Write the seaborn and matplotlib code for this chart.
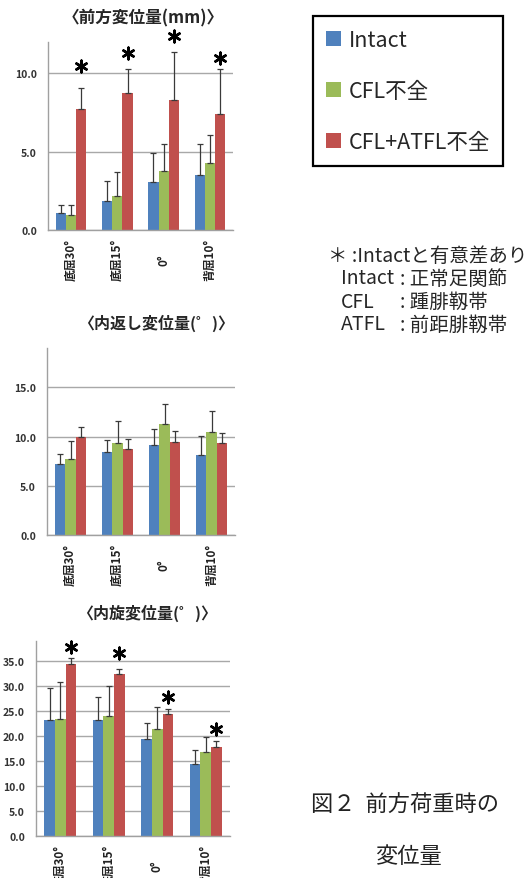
import numpy as np
import pandas as pd
import matplotlib.pyplot as plt
import seaborn as sns

sns.set_style('white')
plt.rcParams['font.family'] = ['Noto Sans CJK JP', 'DejaVu Sans']

# ---- data ----
angles = ['底屈30°', '底屈15°', '0°', '背屈10°']
groups = ['Intact', 'CFL不全', 'CFL+ATFL不全']
colors = ['#4F81BD', '#9BBB59', '#C0504D']

# 前方変位量 (mm)
ant_intact = [1.1, 1.87, 3.09, 3.49]
ant_cfl = [0.96, 2.17, 3.79, 4.3]
ant_atfl = [7.72, 8.72, 8.32, 7.4]
ant_intact_sd = [0.5, 1.28, 1.85, 1.98]
ant_cfl_sd = [0.64, 1.53, 1.7, 1.74]
ant_atfl_sd = [1.32, 1.58, 3.06, 2.9]
ant_star = [10.5, 11.3, 12.4, 10.96]

# 内返し変位量 (deg)
inv_intact = [7.23, 8.45, 9.16, 8.11]
inv_cfl = [7.7, 9.37, 11.23, 10.45]
inv_atfl = [9.98, 8.72, 9.5, 9.37]
inv_intact_sd = [1.02, 1.19, 1.56, 1.97]
inv_cfl_sd = [1.84, 2.17, 2.07, 2.11]
inv_atfl_sd = [1.02, 1.02, 1.05, 1.01]

# 内旋変位量 (deg)
rot_intact = [23.2, 23.2, 19.5, 14.5]
rot_cfl = [23.5, 24.1, 21.5, 16.9]
rot_atfl = [34.5, 32.5, 24.5, 17.9]
rot_intact_sd = [6.5, 4.7, 3.2, 2.7]
rot_cfl_sd = [7.4, 6.0, 4.3, 3.0]
rot_atfl_sd = [1.2, 1.0, 1.0, 1.1]
rot_star = [37.9, 36.7, 27.8, 21.5]


def long_df(intact, cfl, atfl):
    return pd.DataFrame({
        'angle': angles * 3,
        'group': np.repeat(groups, 4),
        'value': intact + cfl + atfl,
    })


W, H = 528, 879
fig = plt.figure(figsize=(W / 100, H / 100), dpi=100)


def px_axes(left, top, right, bottom):
    return fig.add_axes([left / W, 1 - bottom / H, (right - left) / W, (bottom - top) / H])


def draw_panel(ax, intact, cfl, atfl, sds, stars, ymax, yticks, legend=False):
    sns.barplot(data=long_df(intact, cfl, atfl), x='angle', y='value', hue='group',
                hue_order=groups, palette=colors, errorbar=None, width=0.66,
                saturation=1, ax=ax, legend=legend, linewidth=0)
    for cont, sd in zip(ax.containers, sds):
        xs = [b.get_x() + b.get_width() / 2 for b in cont]
        ys = [b.get_height() for b in cont]
        ax.errorbar(xs, ys, yerr=[np.zeros(len(sd)), sd], fmt='none',
                    ecolor='#3a3a3a', elinewidth=0.9, capsize=2.3, capthick=0.9)
    if stars is not None:
        cont = ax.containers[2]
        xs = [b.get_x() + b.get_width() / 2 for b in cont]
        ax.scatter(xs, stars, marker=(6, 2, 0), s=70, c='black',
                   linewidths=1.8, clip_on=False, zorder=5)
    ax.set_xlim(-0.5, 3.5)
    ax.set_ylim(0, ymax)
    ax.set_yticks(yticks)
    ax.set_yticklabels([f'{t:.1f}' for t in yticks])
    ax.set_xlabel('')
    ax.set_ylabel('')
    ax.yaxis.grid(True, color='#a8a8a8', linewidth=1)
    ax.set_axisbelow(True)
    for s in ['top', 'right']:
        ax.spines[s].set_visible(False)
    for s in ['left', 'bottom']:
        ax.spines[s].set_color('#a0a0a0')
        ax.spines[s].set_linewidth(1)
    ax.tick_params(axis='x', length=0, pad=21)
    ax.tick_params(axis='y', length=3, color='#a0a0a0', pad=5, labelsize=7.5,
                   labelcolor='#333333')
    for lab in ax.get_yticklabels():
        lab.set_fontweight('bold')
    for lab in ax.get_xticklabels():
        lab.set_rotation(90)
        lab.set_va('center')
        lab.set_fontsize(8.5)
        lab.set_fontweight('bold')
        lab.set_color('#222222')


ax1 = px_axes(48, 43, 233, 231)
draw_panel(ax1, ant_intact, ant_cfl, ant_atfl,
           [ant_intact_sd, ant_cfl_sd, ant_atfl_sd], ant_star, 12, [0, 5, 10], legend=True)
handles, labels = ax1.get_legend_handles_labels()
ax1.get_legend().remove()

ax2 = px_axes(47, 349, 235, 536)
draw_panel(ax2, inv_intact, inv_cfl, inv_atfl,
           [inv_intact_sd, inv_cfl_sd, inv_atfl_sd], None, 19, [0, 5, 10, 15])

ax3 = px_axes(36, 642, 230, 837)
draw_panel(ax3, rot_intact, rot_cfl, rot_atfl,
           [rot_intact_sd, rot_cfl_sd, rot_atfl_sd], rot_star, 39, list(range(0, 40, 5)))

# panel titles
fig.text(143 / W, 1 - 18 / H, '〈前方変位量(mm)〉', ha='center', va='center',
         fontsize=12, fontweight='bold')
fig.text(156 / W, 1 - 323 / H, '〈内返し変位量(゜)〉', ha='center', va='center',
         fontsize=11.5, fontweight='bold')
fig.text(147 / W, 1 - 613 / H, '〈内旋変位量(゜)〉', ha='center', va='center',
         fontsize=11.5, fontweight='bold')

# legend
leg = fig.legend(handles, labels, loc='upper left', bbox_to_anchor=(313 / W, 1 - 17 / H),
                 borderaxespad=0, fontsize=15.5, frameon=True, fancybox=False,
                 framealpha=1, edgecolor='black', handlelength=0.7, handleheight=0.7,
                 handletextpad=0.35, labelspacing=1.35, borderpad=0.6)
leg.get_frame().set_linewidth(1.6)

# notes
note_fs = 14
fig.text(328 / W, 1 - 256 / H, '＊ :Intactと有意差あり', ha='left', va='center', fontsize=note_fs)
note_names = ['Intact', 'CFL', 'ATFL']
note_desc = [': 正常足関節', ': 踵腓靱帯', ': 前距腓靱帯']
for i, (nm, ds) in enumerate(zip(note_names, note_desc)):
    y = 1 - (279 + 23 * i) / H
    fig.text(341 / W, y, nm, ha='left', va='center', fontsize=note_fs)
    fig.text(400 / W, y, ds, ha='left', va='center', fontsize=note_fs)

# caption
fig.text(405 / W, 1 - 805 / H, '図２  前方荷重時の', ha='center', va='center',
         fontsize=16, color='#222222')
fig.text(408 / W, 1 - 857 / H, '変位量', ha='center', va='center',
         fontsize=16, color='#222222')

fig.savefig('out.png', dpi=100)
